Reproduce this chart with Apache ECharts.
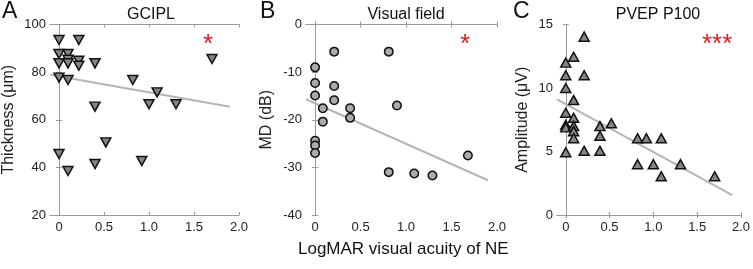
<!DOCTYPE html>
<html>
<head>
<meta charset="utf-8">
<script src="https://cdn.jsdelivr.net/npm/echarts@6/dist/echarts.min.js"></script>
<style>
  html, body { margin: 0; padding: 0; background: #fff; }
  #chart { width: 753px; height: 269px; }
</style>
</head>
<body>
<div id="chart"></div>
<script>
// tick positions shared by the three x axes
var xTicks = [0, 0.5, 1, 1.5, 2];

// A: GCIPL thickness (um) vs logMAR
var gcipl = [[0, 93.5], [0.22, 93.5], [0, 87.6], [0.1, 87.6], [0, 83.7], [0.1, 85.2], [0.1, 83.7],
    [0.22, 84.8], [0.22, 82.7], [0.4, 83.7], [0, 77.7], [0.1, 76.7], [0.82, 76.7], [1.09, 71.5],
    [1.0, 66.5], [1.3, 66.5], [0.4, 65.5], [0.52, 50.5], [0, 45.6], [0.4, 41.4], [0.92, 42.7],
    [0.1, 38.5], [1.7, 85.5]];
var fitA = [[-0.1, 78.9], [1.9, 65.5]];

// B: visual field MD (dB)
var vf = [[0.21, -5.7], [0.81, -5.7], [0, -9.0], [0, -12.3], [0, -14.9], [0.21, -12.9], [0.21, -15.9],
    [0.085, -17.6], [0.385, -17.6], [0.385, -19.6], [0.085, -20.4], [0.9, -17.0], [0, -24.4],
    [0, -25.4], [0, -27.0], [1.68, -27.5], [0.81, -31.0], [1.09, -31.3], [1.29, -31.7]];
var fitB = [[-0.1, -15.7], [1.9, -32.7]];

// C: PVEP P100 amplitude (uV)
var pvep = [[0.21, 14.04], [0.09, 12.46], [0, 12.0], [0, 11.0], [0.21, 11.0], [0, 10.0], [0.09, 9.05],
    [0, 8.05], [0.09, 7.66], [0, 7.1], [0, 6.9], [0.09, 7.0], [0.09, 6.6], [0.09, 6.04], [0.39, 7.0],
    [0.52, 7.22], [0.39, 6.24], [0, 4.94], [0.21, 5.06], [0.39, 5.06], [0.82, 6.04], [0.92, 6.04],
    [1.09, 6.04], [0.82, 4.0], [1.0, 4.0], [1.31, 4.0], [1.09, 3.05], [1.7, 3.05]];
var fitC = [[-0.1, 9.1], [1.9, 1.57]];

var font = '"Liberation Sans", Arial, sans-serif';
var axisGray = '#999999';

var chart = echarts.init(document.getElementById('chart'));

var grids = [
    { left: 49, top: 24.5, width: 190, height: 190.5 },
    { left: 306, top: 24.5, width: 191, height: 190.5 },
    { left: 557, top: 24.5, width: 189, height: 190.5 }
];

var xAxes = [];
var yAxes = [];
var yCfg = [
    { min: 20, max: 100, interval: 20, name: 'Thickness (\u03bcm)', gap: 33 },
    { min: -40, max: 0, interval: 10, name: 'MD (dB)', gap: 31 },
    { min: 0, max: 15, interval: 5, name: 'Amplitude (\u03bcV)', gap: 26 }
];

for (var i = 0; i < 3; i++) {
    // bottom axis with labels
    xAxes.push({
        type: 'value', gridIndex: i, min: -0.1, max: 2, position: 'bottom',
        splitLine: { show: false },
        axisLine: { lineStyle: { color: axisGray, width: 1 } },
        axisTick: { inside: true, length: 3, customValues: xTicks, lineStyle: { color: axisGray } },
        axisLabel: {
            customValues: xTicks, showMaxLabel: true, showMinLabel: true,
            color: '#222', fontSize: 13, fontFamily: font, margin: 6,
            formatter: function (v) { return v === 0 ? '0' : v.toFixed(1); }
        }
    });
    // top mirror axis
    xAxes.push({
        type: 'value', gridIndex: i, min: -0.1, max: 2, position: 'top',
        splitLine: { show: false },
        axisLine: { lineStyle: { color: axisGray, width: 1 } },
        axisTick: { inside: true, length: 3, customValues: xTicks, lineStyle: { color: axisGray } },
        axisLabel: { show: false }
    });
    var c = yCfg[i];
    yAxes.push({
        type: 'value', gridIndex: i, min: c.min, max: c.max, interval: c.interval, position: 'left',
        name: c.name, nameLocation: 'middle', nameGap: c.gap,
        nameTextStyle: { color: '#222', fontSize: 16, fontFamily: font },
        splitLine: { show: false },
        axisLine: { show: true, lineStyle: { color: axisGray, width: 1 } },
        axisTick: { show: true, inside: true, length: 3, lineStyle: { color: axisGray } },
        axisLabel: { color: '#222', fontSize: 13, fontFamily: font, margin: 4 }
    });
    yAxes.push({
        type: 'value', gridIndex: i, min: c.min, max: c.max, interval: c.interval, position: 'right',
        splitLine: { show: false },
        axisLine: { show: true, lineStyle: { color: axisGray, width: 1 } },
        axisTick: { show: true, inside: true, length: 3, lineStyle: { color: axisGray } },
        axisLabel: { show: false }
    });
}

function scatter(idx, data, symbol, rotate, size, fill) {
    return {
        type: 'scatter', xAxisIndex: idx * 2, yAxisIndex: idx * 2, data: data,
        symbol: symbol, symbolRotate: rotate, symbolSize: size,
        itemStyle: { color: fill, borderColor: '#111', borderWidth: 1.5, opacity: 1 },
        z: 3, silent: true
    };
}

function fit(idx, data) {
    return {
        type: 'line', xAxisIndex: idx * 2, yAxisIndex: idx * 2, data: data,
        showSymbol: false, lineStyle: { color: '#b5b5b5', width: 2 }, z: 2, silent: true
    };
}

function txt(x, y, s, size, color, align) {
    return {
        type: 'text', left: x, top: y,
        style: { text: s, fontSize: size, fill: color || '#111', fontFamily: font, textAlign: align || 'left' }
    };
}

var option = {
    animation: false,
    grid: grids,
    xAxis: xAxes,
    yAxis: yAxes,
    series: [
        fit(0, fitA), scatter(0, gcipl, 'triangle', 180, [10, 9], '#858585'),
        fit(1, fitB), scatter(1, vf, 'circle', 0, 8.5, '#ababab'),
        fit(2, fitC), scatter(2, pvep, 'triangle', 0, [10, 9], '#858585')
    ],
    title: [
        { text: 'GCIPL', left: 146, top: 2, textAlign: 'center', textStyle: { fontSize: 16, fontWeight: 'normal', color: '#111', fontFamily: font } },
        { text: 'Visual field', left: 401, top: 2, textAlign: 'center', textStyle: { fontSize: 16, fontWeight: 'normal', color: '#111', fontFamily: font } },
        { text: 'PVEP P100', left: 653, top: 2, textAlign: 'center', textStyle: { fontSize: 16, fontWeight: 'normal', color: '#111', fontFamily: font } }
    ],
    graphic: [
        txt(2, 0, 'A', 23),
        txt(260, 0, 'B', 23),
        txt(513, 0, 'C', 23),
        txt(203, 32, '*', 26, '#e0191f'),
        txt(460, 32, '*', 26, '#e0191f'),
        txt(702, 32, '***', 26, '#e0191f'),
        txt(298, 241, 'LogMAR visual acuity of NE', 17)
    ]
};

chart.setOption(option);
</script>
</body>
</html>
